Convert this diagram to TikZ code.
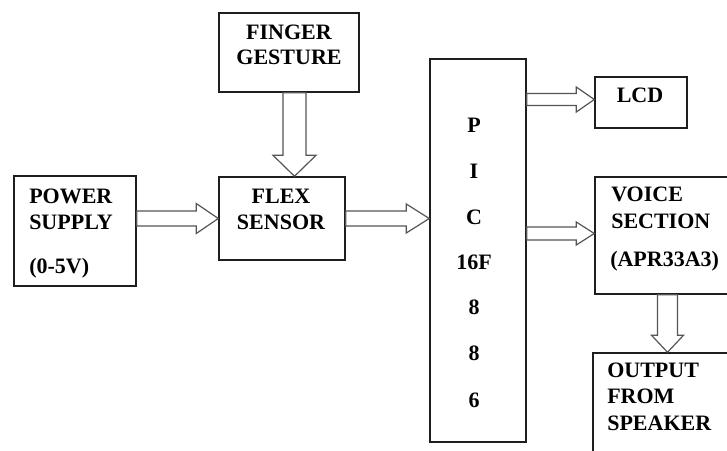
\documentclass[tikz,border=0pt]{standalone}
\usepackage{fontspec}
\setmainfont{Liberation Serif}
\usetikzlibrary{calc}
\definecolor{boxc}{HTML}{1E1E1E}
\definecolor{arrc}{HTML}{555555}
\tikzset{
  box/.style={draw=boxc, line width=1.1pt, inner sep=0pt, fill=white},
  lbl/.style={font=\fontsize{16.5}{19}\selectfont\bfseries, text=black, inner sep=0pt},
  hollow/.style={draw=arrc, line width=0.9pt, fill=white, line join=miter},
}
% horizontal arrow: start, end, shaft half-width, head half-width, head length (px)
\newcommand\arrowright[5]{%
  \path[hollow] let \p1=#1, \p2=#2 in
   (\x1,{\y1+#3*0.75pt}) -- ({\x2-#5*0.75pt},{\y1+#3*0.75pt}) -- ({\x2-#5*0.75pt},{\y1+#4*0.75pt})
   -- (\x2,\y1) -- ({\x2-#5*0.75pt},{\y1-#4*0.75pt}) -- ({\x2-#5*0.75pt},{\y1-#3*0.75pt})
   -- (\x1,{\y1-#3*0.75pt}) -- cycle;}
% vertical (downward) arrow
\newcommand\arrowdown[5]{%
  \path[hollow] let \p1=#1, \p2=#2 in
   ({\x1-#3*0.75pt},\y1) -- ({\x1-#3*0.75pt},{\y2+#5*0.75pt}) -- ({\x1-#4*0.75pt},{\y2+#5*0.75pt})
   -- (\x1,\y2) -- ({\x1+#4*0.75pt},{\y2+#5*0.75pt}) -- ({\x1+#3*0.75pt},{\y2+#5*0.75pt})
   -- ({\x1+#3*0.75pt},\y1) -- cycle;}
\begin{document}
\begin{tikzpicture}[x=0.75pt, y=-0.75pt]
\clip (0,0) rectangle (727,450);
\fill[white] (0,0) rectangle (727,450);

% boxes
\node[box, minimum width=91.5pt,  minimum height=82.5pt]  (psu)    at (75,231) {};
\node[box, minimum width=94.5pt,  minimum height=62.25pt] (flex)   at (282,218.5) {};
\node[box, minimum width=105pt,   minimum height=59.25pt] (finger) at (289,52.5) {};
\node[box, minimum width=72pt,    minimum height=287.25pt](pic)    at (478,250.5) {};
\node[box, minimum width=69pt,    minimum height=38.25pt] (lcd)    at (641,102.5) {};
\node[box, minimum width=108.75pt,minimum height=87.75pt] (voice)  at (667.5,235.5) {};
\node[box, minimum width=111.75pt,minimum height=87.75pt] (output) at (667.5,411.5) {};

% labels
\node[lbl, anchor=base west] (t1) at (29,203) {POWER};
\node[lbl, anchor=base west] (t2) at (29,229) {SUPPLY};
\node[lbl, anchor=base west] (t3) at (29,273) {(0-5V)};
\node[lbl, anchor=base] (t4) at (281,203) {FLEX};
\node[lbl, anchor=base] (t5) at (281,229) {SENSOR};
\node[lbl, anchor=base] (t6) at (289,39) {FINGER};
\node[lbl, anchor=base] (t7) at (289,64) {GESTURE};
\node[lbl, anchor=base] (p1) at (474,132) {P};
\node[lbl, anchor=base] (p2) at (474,178) {I};
\node[lbl, anchor=base] (p3) at (474,224) {C};
\node[lbl, anchor=base] (p4) at (474,269) {16F};
\node[lbl, anchor=base] (p5) at (474,314) {8};
\node[lbl, anchor=base] (p6) at (474,360) {8};
\node[lbl, anchor=base] (p7) at (474,407) {6};
\node[lbl, anchor=base] (t8) at (640,102) {LCD};
\node[lbl, anchor=base west] (t9)  at (611,201) {VOICE};
\node[lbl, anchor=base west] (t10) at (611,228) {SECTION};
\node[lbl, anchor=base west] (t11) at (610,266) {(APR33A3)};
\node[lbl, anchor=base west] (t12) at (607,377) {OUTPUT};
\node[lbl, anchor=base west] (t13) at (607,403) {FROM};
\node[lbl, anchor=base west] (t14) at (607,430) {SPEAKER};

% hollow arrows
\arrowright{(psu.east |- flex.west)}{(flex.west)}{7.5}{15}{22}
\arrowdown{($(finger.south)+(5.5,0)$)}{(flex.north)}{11.5}{21.5}{21}
\arrowright{(flex.east)}{(flex.east -| pic.west)}{7.5}{14.5}{23}
\arrowright{($(lcd.west -| pic.east)+(0,-3)$)}{($(lcd.west)+(0,-3)$)}{6}{12.5}{18}
\arrowright{($(voice.west -| pic.east)+(0,-2)$)}{($(voice.west)+(0,-2)$)}{6.5}{11.5}{18}
\arrowdown{(voice.south)}{(output.north)}{10}{16}{17}
\end{tikzpicture}
\end{document}
